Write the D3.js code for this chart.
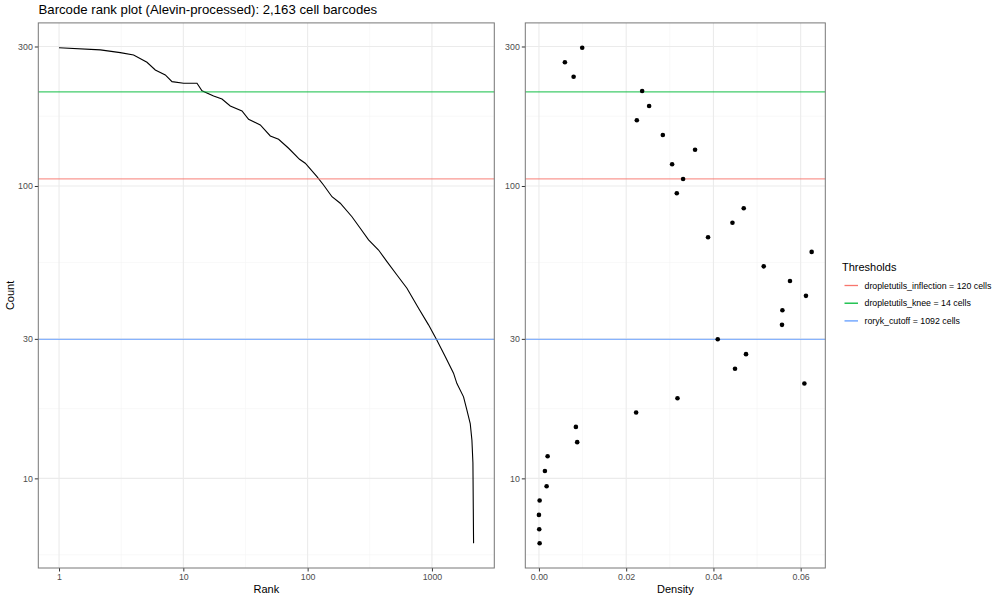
<!DOCTYPE html>
<html>
<head>
<meta charset="utf-8">
<script src="https://cdn.jsdelivr.net/npm/d3@7"></script>
<style>
  html, body { margin: 0; padding: 0; background: #fff; }
  svg { display: block; font-family: "Liberation Sans", Arial, Helvetica, sans-serif; }
</style>
</head>
<body>
<svg id="chart" width="1000" height="600"></svg>
<script>
// ---------------- data ----------------
const chartTitle = "Barcode rank plot (Alevin-processed): 2,163 cell barcodes";

// barcode rank curve: knots (rank, UMI count)
const curveRanks  = [1, 2.15, 3.11, 3.98, 5.10, 5.95, 7.16, 8.11, 10.05, 12.88, 14.13, 17.52, 20.46, 23.86, 29.65, 33.5, 41.6, 50.1, 58.4, 70.3, 86.1, 95.7, 118.9, 134.3, 157.0, 183.0, 227.3, 265.1, 309.2, 372.1, 434.7, 523.1, 629.5, 780.6, 939, 1097, 1279, 1492, 1589, 1796, 1912, 2033, 2098, 2137, 2163];
const curveCounts = [297, 292, 285.8, 280.7, 265, 249.4, 239.8, 227.5, 224.5, 224.5, 211.8, 203.2, 198.4, 187.8, 180.5, 169.1, 161.7, 148.3, 144.5, 134.6, 123.4, 119.6, 107.6, 100.8, 91.9, 87.3, 78.5, 71.7, 65.4, 60.4, 55.1, 49.6, 44.7, 38.2, 33.5, 29.7, 26.1, 22.9, 21.1, 19.0, 17.1, 15.4, 13.5, 11.3, 6];

// density panel: points (count, density)
const densityCounts = [297.2, 265.0, 236.5, 211.3, 187.8, 167.8, 149.4, 133.1, 118.7, 105.7, 94.4, 83.9, 74.9, 66.8, 59.5, 53.1, 47.3, 42.1, 37.6, 33.5, 29.9, 26.6, 23.7, 21.1, 18.8, 16.8, 15.0, 13.3, 11.9, 10.6, 9.4, 8.4, 7.5, 6.7, 6.0];
const densityValues = [0.00992, 0.00595, 0.00795, 0.02366, 0.02526, 0.02244, 0.02840, 0.03579, 0.03053, 0.03305, 0.03160, 0.04695, 0.04436, 0.03877, 0.06252, 0.05153, 0.05755, 0.06121, 0.05581, 0.05572, 0.04099, 0.04747, 0.04495, 0.06085, 0.03176, 0.02228, 0.00847, 0.00877, 0.00199, 0.00137, 0.00176, 0.00016, 0.0, 0.00007, 0.00016];

// thresholds
const thresholdNames  = ["dropletutils_inflection", "dropletutils_knee", "roryk_cutoff"];
const thresholdCells  = [120, 14, 1092];
const thresholdCounts = [105.7, 210, 29.9];
const thresholdColors = ["#F8766D", "#00BA38", "#619CFF"];

// axis ticks
const countTicks   = [10, 30, 100, 300];
const rankTicks    = [1, 10, 100, 1000];
const densityTicks = [0, 0.02, 0.04, 0.06];

// ---------------- layout ----------------
const svg = d3.select("#chart");
const panelTop = 22.9, panelBottom = 568;
const left = {x0: 38.3, x1: 494.3};
const right = {x0: 525.3, x1: 825.3};
const gridMajor = "#ebebeb", gridMinor = "#f4f4f4";
const textCol = "#4d4d4d";

function logExpand(lo, hi) {
  const a = Math.log10(lo), b = Math.log10(hi), p = (b - a) * 0.05;
  return [Math.pow(10, a - p), Math.pow(10, b + p)];
}
function linExpand(lo, hi) { const p = (hi - lo) * 0.05; return [lo - p, hi + p]; }

const yDomain = logExpand(d3.min(curveCounts.concat(densityCounts)), d3.max(curveCounts.concat(densityCounts)));
const y = d3.scaleLog().domain(yDomain).range([panelBottom, panelTop]);
const xRank = d3.scaleLog().domain(logExpand(1, d3.max(curveRanks))).range([left.x0, left.x1]);
const xDen = d3.scaleLinear().domain(linExpand(0, d3.max(densityValues))).range([right.x0, right.x1]);

// minor breaks: midpoints in transformed space
const logMid = (a, b) => Math.pow(10, (Math.log10(a) + Math.log10(b)) / 2);
const countMinor = [logMid(3, 10), logMid(10, 30), logMid(30, 100), logMid(100, 300)];
const rankMinor = [logMid(1, 10), logMid(10, 100), logMid(100, 1000), logMid(1000, 10000)];
const densityMinor = [0.01, 0.03, 0.05];

function panel(g, x, x0, x1, xMajor, xMinor, xFmt, xTitle) {
  g.append("rect").attr("x", x0).attr("y", panelTop).attr("width", x1 - x0).attr("height", panelBottom - panelTop).attr("fill", "#fff");
  const clip = g.append("g");
  // minor grid
  countMinor.forEach(v => { const yy = y(v); if (yy > panelTop && yy < panelBottom)
    clip.append("line").attr("x1", x0).attr("x2", x1).attr("y1", yy).attr("y2", yy).attr("stroke", gridMinor).attr("stroke-width", 0.6); });
  xMinor.forEach(v => { const xx = x(v); if (xx > x0 && xx < x1)
    clip.append("line").attr("x1", xx).attr("x2", xx).attr("y1", panelTop).attr("y2", panelBottom).attr("stroke", gridMinor).attr("stroke-width", 0.6); });
  // major grid
  countTicks.forEach(v => clip.append("line").attr("x1", x0).attr("x2", x1).attr("y1", y(v)).attr("y2", y(v)).attr("stroke", gridMajor).attr("stroke-width", 1.1));
  xMajor.forEach(v => clip.append("line").attr("x1", x(v)).attr("x2", x(v)).attr("y1", panelTop).attr("y2", panelBottom).attr("stroke", gridMajor).attr("stroke-width", 1.1));

  // y axis
  const ya = d3.axisLeft(y).tickValues(countTicks).tickFormat(d3.format("d")).tickSize(3.5).tickPadding(2);
  const yg = g.append("g").attr("transform", `translate(${x0},0)`).call(ya);
  yg.select(".domain").remove();
  yg.selectAll("line").attr("stroke", "#333");
  yg.selectAll("text").attr("fill", textCol).attr("font-size", 8.8).attr("font-family", "Liberation Sans, Arial, sans-serif");
  // x axis
  const xa = d3.axisBottom(x).tickValues(xMajor).tickFormat(xFmt).tickSize(3.5).tickPadding(2);
  const xg = g.append("g").attr("transform", `translate(0,${panelBottom})`).call(xa);
  xg.select(".domain").remove();
  xg.selectAll("line").attr("stroke", "#333");
  xg.selectAll("text").attr("fill", textCol).attr("font-size", 8.8).attr("font-family", "Liberation Sans, Arial, sans-serif");
  g.append("text").attr("x", (x0 + x1) / 2).attr("y", 593).attr("text-anchor", "middle").attr("font-size", 11).attr("fill", "#000").text(xTitle);
  return clip;
}

const gl = svg.append("g");
const layerL = panel(gl, xRank, left.x0, left.x1, rankTicks, rankMinor, d3.format("d"), "Rank");
const gr = svg.append("g");
const layerR = panel(gr, xDen, right.x0, right.x1, densityTicks, densityMinor, d3.format(".2f"), "Density");

// threshold lines
function thresholdLines(layer, x0, x1) {
  thresholdCounts.forEach((c, i) => {
    layer.append("line").attr("x1", x0).attr("x2", x1).attr("y1", y(c)).attr("y2", y(c))
      .attr("stroke", thresholdColors[i]).attr("stroke-opacity", 0.75).attr("stroke-width", 1.3);
  });
}

// curve
const line = d3.line().x((d, i) => xRank(curveRanks[i])).y(d => y(d));
layerL.append("path").datum(curveCounts).attr("d", line).attr("fill", "none").attr("stroke", "#000").attr("stroke-width", 1.1);
thresholdLines(layerL, left.x0, left.x1);

// density points
thresholdLines(layerR, right.x0, right.x1);
layerR.selectAll("circle.pt").data(densityCounts).enter().append("circle")
  .attr("cx", (d, i) => xDen(densityValues[i])).attr("cy", d => y(d)).attr("r", 2.3).attr("fill", "#000");

// panel borders
[[left.x0, left.x1], [right.x0, right.x1]].forEach(([a, b]) => {
  svg.append("rect").attr("x", a).attr("y", panelTop).attr("width", b - a).attr("height", panelBottom - panelTop)
    .attr("fill", "none").attr("stroke", "#777").attr("stroke-width", 1);
});

// y axis title
svg.append("text").attr("transform", `translate(14,${(panelTop + panelBottom) / 2}) rotate(-90)`)
  .attr("text-anchor", "middle").attr("font-size", 11).attr("fill", "#000").text("Count");

// title
svg.append("text").attr("x", 38.5).attr("y", 14).attr("font-size", 13.2).attr("fill", "#000").text(chartTitle);

// legend
const lg = svg.append("g");
lg.append("text").attr("x", 842).attr("y", 271).attr("font-size", 11).attr("fill", "#000").text("Thresholds");
thresholdNames.forEach((n, i) => {
  const yy = 285.5 + i * 17.7;
  lg.append("line").attr("x1", 844.5).attr("x2", 858).attr("y1", yy).attr("y2", yy)
    .attr("stroke", thresholdColors[i]).attr("stroke-width", 1.3);
  lg.append("text").attr("x", 864.5).attr("y", yy + 3).attr("font-size", 8.8).attr("fill", "#000")
    .text(`${n} = ${thresholdCells[i]} cells`);
});
</script>
</body>
</html>
